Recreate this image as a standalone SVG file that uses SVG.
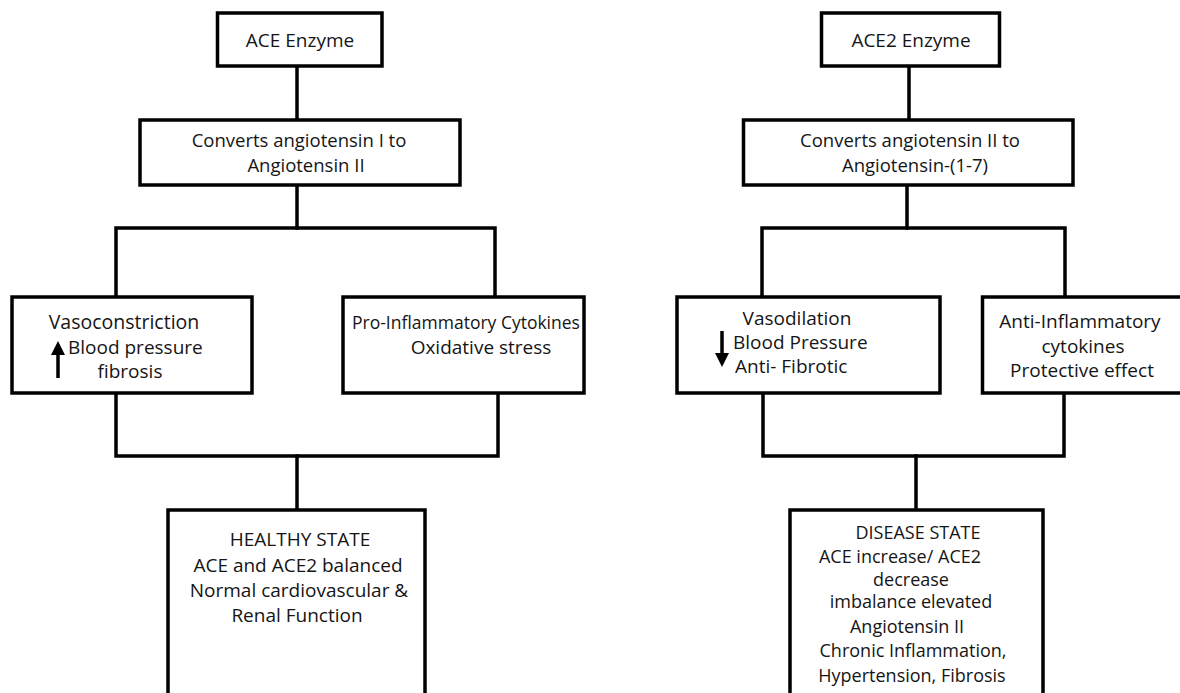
<svg xmlns="http://www.w3.org/2000/svg" width="1180" height="693" viewBox="0 0 1180 693">
<style>
.box{fill:#fff;stroke:#000;stroke-width:3.5}
.ln{fill:none;stroke:#000;stroke-width:3.5;stroke-linejoin:miter;stroke-linecap:square}
text{font-family:"Open Sans","Noto Sans",sans-serif;font-size:19px;fill:#151515}
.c{text-anchor:middle}
.s18{font-size:18px}
.arr{stroke:#000;stroke-width:3.5;fill:none}
</style>
<defs>
<marker id="ah" viewBox="0 0 10 10" refX="5" refY="5" markerWidth="4.5" markerHeight="4" orient="auto-start-reverse" markerUnits="strokeWidth">
<path d="M0,0 L10,5 L0,10 z" fill="#000"/>
</marker>
</defs>
<rect width="1180" height="693" fill="#fff"/>
<g id="connectors">
<path class="ln" d="M297,66 V120"/>
<path class="ln" d="M297,185 V228"/>
<path class="ln" d="M116,297 V228 H495 V297"/>
<path class="ln" d="M116,393 V456 H498 V393"/>
<path class="ln" d="M297,456 V510"/>
<path class="ln" d="M909,66 V120"/>
<path class="ln" d="M907,185 V228"/>
<path class="ln" d="M762,297 V228 H1065 V297"/>
<path class="ln" d="M763,393 V456 H1064 V393"/>
<path class="ln" d="M916,456 V510"/>
</g>
<g id="ace-enzyme">
<rect class="box" x="217.5" y="13" width="164.5" height="53"/>
<text class="c" x="300" y="47">ACE Enzyme</text>
</g>
<g id="ace-converts">
<rect class="box" x="140" y="120" width="320" height="65"/>
<text class="c" x="299" y="147" style="font-size:18.5px">Converts angiotensin I to</text>
<text class="c" x="306" y="172" style="font-size:18.5px">Angiotensin II</text>
</g>
<g id="vasoconstriction">
<rect class="box" x="12" y="297" width="240" height="96"/>
<text class="c" x="124" y="329" style="font-size:19.5px">Vasoconstriction</text>
<text x="68" y="354">Blood pressure</text>
<text class="c" x="130" y="378">fibrosis</text>
<line class="arr" x1="58" y1="378" x2="58" y2="348" marker-end="url(#ah)"/>
</g>
<g id="pro-inflammatory">
<rect class="box" x="343" y="297" width="241" height="96"/>
<text class="c" x="466" y="329" style="font-size:17.5px">Pro-Inflammatory Cytokines</text>
<text class="c" x="481" y="354">Oxidative stress</text>
</g>
<g id="healthy-state">
<rect class="box" x="168" y="510" width="257" height="200"/>
<text class="c" x="300" y="546">HEALTHY STATE</text>
<text class="c" x="298" y="572">ACE and ACE2 balanced</text>
<text class="c" x="299" y="597">Normal cardiovascular &amp;</text>
<text class="c" x="297" y="622">Renal Function</text>
</g>
<g id="ace2-enzyme">
<rect class="box" x="821.5" y="13" width="178" height="53"/>
<text class="c" x="911" y="47">ACE2 Enzyme</text>
</g>
<g id="ace2-converts">
<rect class="box" x="743.5" y="120" width="329.5" height="65"/>
<text class="c" x="910" y="147" style="font-size:18.5px">Converts angiotensin II to</text>
<text class="c" x="915" y="172" style="font-size:18.5px">Angiotensin-(1-7)</text>
</g>
<g id="vasodilation">
<rect class="box" x="677" y="297" width="263" height="96"/>
<text class="c" x="797" y="325">Vasodilation</text>
<text x="733" y="349">Blood Pressure</text>
<text x="735" y="373">Anti- Fibrotic</text>
<line class="arr" x1="722" y1="331" x2="722" y2="360" marker-end="url(#ah)"/>
</g>
<g id="anti-inflammatory">
<rect class="box" x="982.5" y="297" width="200" height="96"/>
<text class="c" x="1080" y="328">Anti-Inflammatory</text>
<text class="c" x="1083" y="353">cytokines</text>
<text class="c" x="1082" y="377">Protective effect</text>
</g>
<g id="disease-state">
<rect class="box" x="790" y="510" width="253" height="200"/>
<text class="c s18" x="918" y="539">DISEASE STATE</text>
<text class="c s18" x="900" y="563">ACE increase/ ACE2</text>
<text class="c s18" x="911" y="586">decrease</text>
<text class="c s18" x="911" y="608">imbalance elevated</text>
<text class="c s18" x="907" y="633">Angiotensin II</text>
<text class="c s18" x="913" y="657">Chronic Inflammation,</text>
<text class="c s18" x="912" y="682">Hypertension, Fibrosis</text>
</g>
</svg>
